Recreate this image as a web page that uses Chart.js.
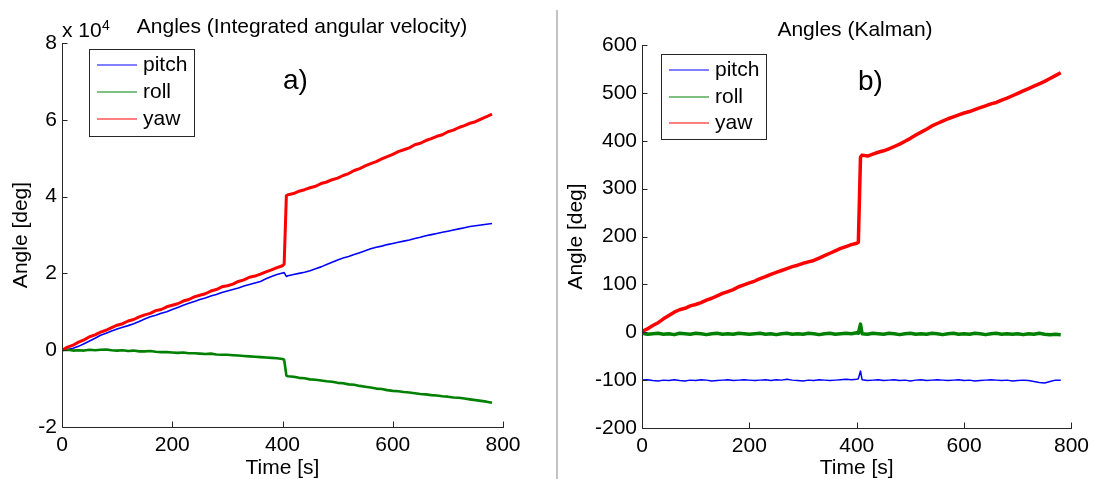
<!DOCTYPE html>
<html>
<head>
<meta charset="utf-8">
<script src="https://cdn.jsdelivr.net/npm/chart.js@4"></script>
<style>
  html, body { margin: 0; padding: 0; background: #fff; }
  body { width: 1095px; height: 479px; position: relative; overflow: hidden; }
  canvas { position: absolute; top: 0; }
  #chartA { left: 0; }
  #chartB { left: 560px; }
  .divider { position: absolute; left: 556px; top: 10px; width: 2px; height: 469px; background: #c3c3c3; }
</style>
</head>
<body>
<canvas id="chartA" width="557" height="479"></canvas>
<div class="divider"></div>
<canvas id="chartB" width="535" height="479"></canvas>
<script>
// time stamps [s], shared by all series
const time = [
  0, 10, 20, 30, 40, 50, 60, 70, 80, 90,
  100, 110, 120, 130, 140, 150, 160, 170, 180, 190,
  200, 210, 220, 230, 240, 250, 260, 270, 280, 290,
  300, 310, 320, 330, 340, 350, 360, 370, 380, 390,
  400, 403, 407,
  410, 420, 430, 440, 450, 460, 470, 480, 490,
  500, 510, 520, 530, 540, 550, 560, 570, 580, 590,
  600, 610, 620, 630, 640, 650, 660, 670, 680, 690,
  700, 710, 720, 730, 740, 750, 760, 770, 780
];

// a) integrated angular velocity, in units of 10^4 deg
const pitchA = [
  0.00, 0.02, 0.05, 0.10, 0.17, 0.24, 0.31, 0.39, 0.44, 0.50,
  0.55, 0.60, 0.64, 0.69, 0.75, 0.81, 0.87, 0.91, 0.96, 1.00,
  1.06, 1.11, 1.17, 1.22, 1.27, 1.32, 1.36, 1.41, 1.45, 1.50,
  1.54, 1.58, 1.62, 1.67, 1.71, 1.75, 1.79, 1.86, 1.92, 1.97,
  2.01, 2.02, 1.92,
  1.94, 1.97, 2.00, 2.03, 2.07, 2.12, 2.17, 2.23, 2.29,
  2.35, 2.40, 2.44, 2.49, 2.54, 2.59, 2.64, 2.68, 2.71, 2.75,
  2.78, 2.81, 2.84, 2.87, 2.91, 2.94, 2.98, 3.01, 3.04, 3.07,
  3.10, 3.13, 3.16, 3.19, 3.22, 3.24, 3.26, 3.28, 3.30
];
const rollA = [
  0.00, 0.01, -0.01, 0.00, -0.01, 0.01, 0.00, 0.01, 0.02, 0.00,
  -0.01, 0.00, -0.02, -0.01, -0.03, -0.03, -0.02, -0.04, -0.05, -0.05,
  -0.06, -0.07, -0.06, -0.08, -0.08, -0.09, -0.10, -0.09, -0.11, -0.12,
  -0.12, -0.13, -0.14, -0.15, -0.16, -0.17, -0.18, -0.19, -0.20, -0.21,
  -0.23, -0.25, -0.66,
  -0.68, -0.69, -0.72, -0.73, -0.76, -0.77, -0.79, -0.81, -0.82,
  -0.85, -0.86, -0.89, -0.90, -0.93, -0.95, -0.97, -1.00, -1.01, -1.04,
  -1.06, -1.07, -1.09, -1.10, -1.12, -1.14, -1.15, -1.17, -1.18, -1.20,
  -1.21, -1.23, -1.24, -1.26, -1.28, -1.30, -1.32, -1.34, -1.37
];
const yawA = [
  0.00, 0.08, 0.13, 0.21, 0.27, 0.35, 0.40, 0.47, 0.52, 0.59,
  0.65, 0.69, 0.76, 0.80, 0.87, 0.92, 0.96, 1.03, 1.06, 1.13,
  1.17, 1.21, 1.28, 1.32, 1.39, 1.43, 1.47, 1.54, 1.58, 1.65,
  1.68, 1.72, 1.79, 1.83, 1.90, 1.93, 1.98, 2.04, 2.09, 2.15,
  2.20, 2.24, 4.02,
  4.05, 4.08, 4.14, 4.18, 4.23, 4.27, 4.34, 4.38, 4.44,
  4.48, 4.55, 4.60, 4.68, 4.73, 4.80, 4.86, 4.91, 4.98, 5.04,
  5.10, 5.17, 5.22, 5.27, 5.35, 5.39, 5.46, 5.51, 5.57, 5.61,
  5.69, 5.73, 5.80, 5.85, 5.91, 5.95, 6.02, 6.08, 6.15
];

// b) Kalman filter, deg
const pitchB = [
  -100, -99, -101, -102, -100, -101, -99, -101, -102, -100,
  -101, -99, -100, -102, -101, -100, -99, -101, -100, -99,
  -100, -101, -100, -99, -101, -99, -100, -98, -100, -101,
  -102, -100, -101, -99, -100, -101, -100, -99, -98, -99,
  -98, -97, -81,
  -99, -101, -100, -99, -101, -100, -99, -101, -100,
  -102, -100, -99, -101, -100, -99, -100, -101, -100, -99,
  -101, -100, -102, -101, -100, -99, -100, -101, -100, -102,
  -101, -100, -101, -103, -105, -106, -103, -100, -100
];
const rollB = [
  -2, -4, -3, -2, -4, -3, -5, -2, -3, -4,
  -2, -3, -5, -3, -2, -4, -3, -4, -2, -3,
  -4, -3, -2, -4, -3, -5, -3, -2, -4, -3,
  -4, -2, -3, -5, -3, -2, -4, -3, -2, -3,
  -1, -2, 17,
  -3, -4, -2, -3, -4, -2, -3, -5, -3,
  -2, -4, -3, -4, -2, -3, -5, -3, -2, -4,
  -3, -4, -2, -3, -5, -3, -2, -4, -3, -4,
  -3, -5, -3, -4, -2, -4, -5, -4, -5
];
const yawB = [
  2, 7, 14, 20, 28, 35, 42, 47, 50, 55,
  58, 62, 67, 71, 76, 81, 85, 89, 95, 99,
  103, 107, 112, 116, 121, 125, 129, 133, 137, 140,
  144, 147, 150, 155, 160, 165, 170, 175, 179, 183,
  186, 188, 366,
  370, 368, 372, 376, 379, 383, 388, 393, 399,
  405, 412, 418, 424, 431, 436, 441, 446, 450, 454,
  458, 461, 465, 469, 473, 477, 480, 485, 489, 494,
  499, 504, 509, 514, 519, 524, 530, 536, 542
];

const seriesNames = ["pitch", "roll", "yaw"];
const seriesColors = ["#0000ff", "#008000", "#ff0000"];

const FONT = "'Liberation Sans', Arial, sans-serif";
Chart.defaults.font.family = FONT;
Chart.defaults.font.size = 21;
Chart.defaults.color = "#000";

function toPoints(values) {
  return time.map((t, i) => ({ x: t, y: values[i] }));
}

// MATLAB-like axes: left + bottom lines, inward ticks, legend box and labels
const matlabLook = {
  id: "matlabLook",
  afterDraw(chart, args, opts) {
    const { ctx, chartArea: ca, scales } = chart;
    const x = scales.x, y = scales.y;
    ctx.save();
    ctx.strokeStyle = "#262626";
    ctx.lineWidth = 1;
    ctx.beginPath();
    const left = Math.round(ca.left) + 0.5;
    const bottom = Math.round(ca.bottom) + 0.5;
    ctx.moveTo(left, Math.round(ca.top));
    ctx.lineTo(left, bottom);
    ctx.lineTo(Math.round(ca.right) + 1, bottom);
    x.ticks.forEach((t) => {
      const px = Math.round(x.getPixelForValue(t.value)) + 0.5;
      ctx.moveTo(px, bottom);
      ctx.lineTo(px, bottom - 6);
    });
    y.ticks.forEach((t) => {
      const py = Math.round(y.getPixelForValue(t.value)) + 0.5;
      ctx.moveTo(left, py);
      ctx.lineTo(left + 5, py);
    });
    ctx.stroke();

    // title
    ctx.fillStyle = "#000";
    ctx.font = "21px " + FONT;
    ctx.textAlign = "center";
    ctx.textBaseline = "alphabetic";
    ctx.fillText(opts.title, opts.titleX, opts.titleY);

    // exponent
    if (opts.exponent) {
      ctx.textAlign = "left";
      ctx.fillText("x 10", opts.exponent.x, opts.exponent.y);
      ctx.font = "14px " + FONT;
      ctx.fillText(opts.exponent.power, opts.exponent.x + 40, opts.exponent.y - 7);
    }

    // panel tag a) / b)
    ctx.font = "28px " + FONT;
    ctx.textAlign = "left";
    ctx.fillText(opts.tag, opts.tagX, opts.tagY);

    // legend
    const lg = opts.legend;
    ctx.fillStyle = "#fff";
    ctx.fillRect(lg.x, lg.y, lg.w, lg.h);
    ctx.strokeStyle = "#262626";
    ctx.lineWidth = 1;
    ctx.strokeRect(lg.x + 0.5, lg.y + 0.5, lg.w, lg.h);
    ctx.font = "21px " + FONT;
    chart.data.datasets.forEach((ds, i) => {
      const ry = Math.round(lg.y + lg.rows[i]);
      ctx.beginPath();
      ctx.strokeStyle = ds.borderColor;
      ctx.lineWidth = 1.2;
      ctx.moveTo(lg.x + 8, ry);
      ctx.lineTo(lg.x + 48, ry);
      ctx.stroke();
      ctx.fillStyle = "#000";
      ctx.fillText(ds.label, lg.x + 54, ry + 5.5);
    });
    ctx.restore();
  },
};

function makeChart(canvasId, data, widths, look) {
  return new Chart(document.getElementById(canvasId), {
    type: "line",
    data: {
      datasets: data.map((values, i) => ({
        label: seriesNames[i],
        data: toPoints(values),
        borderColor: seriesColors[i],
        borderWidth: widths[i],
        borderJoinStyle: "round",
        pointRadius: 0,
        tension: 0,
        order: 2 - i,
      })),
    },
    options: {
      responsive: false,
      animation: false,
      devicePixelRatio: 1,
      layout: { padding: look.padding },
      scales: {
        x: {
          type: "linear",
          min: 0,
          max: 800,
          ticks: { stepSize: 200, padding: 6, maxRotation: 0 },
          grid: { display: false, drawTicks: false },
          border: { display: false },
          title: { display: true, text: "Time [s]", padding: { top: 0, bottom: -2 } },
          afterFit: (s) => { s.height = look.xHeight; },
        },
        y: {
          min: look.yMin,
          max: look.yMax,
          ticks: { stepSize: look.yStep, padding: 5 },
          grid: { display: false, drawTicks: false },
          border: { display: false },
          title: { display: true, text: "Angle [deg]", padding: { top: look.yTitlePad, bottom: 0 } },
          afterFit: (s) => { s.width = look.yWidth; },
        },
      },
      plugins: {
        legend: { display: false },
        tooltip: { enabled: false },
        matlabLook: look.text,
      },
    },
    plugins: [matlabLook],
  });
}

makeChart("chartA", [pitchA, rollA, yawA], [1.6, 2.6, 3], {
  padding: { left: 0, top: 43, right: 54, bottom: 0 },
  xHeight: 52,
  yWidth: 62,
  yTitlePad: 9,
  yMin: -2,
  yMax: 8,
  yStep: 2,
  text: {
    title: "Angles (Integrated angular velocity)",
    titleX: 302,
    titleY: 33,
    exponent: { x: 62, y: 37, power: "4" },
    tag: "a)",
    tagX: 283,
    tagY: 89,
    legend: { x: 89, y: 49, w: 105, h: 87, rows: [15.5, 42.5, 69.5] },
  },
});

makeChart("chartB", [pitchB, rollB, yawB], [1.5, 3.5, 3.5], {
  padding: { left: 0, top: 45, right: 21, bottom: 0 },
  xHeight: 51,
  yWidth: 82,
  yTitlePad: 4,
  yMin: -200,
  yMax: 600,
  yStep: 100,
  text: {
    title: "Angles (Kalman)",
    titleX: 295,
    titleY: 36,
    tag: "b)",
    tagX: 298,
    tagY: 90,
    legend: { x: 101, y: 54, w: 105, h: 85, rows: [16, 42.5, 69] },
  },
});
</script>
</body>
</html>
